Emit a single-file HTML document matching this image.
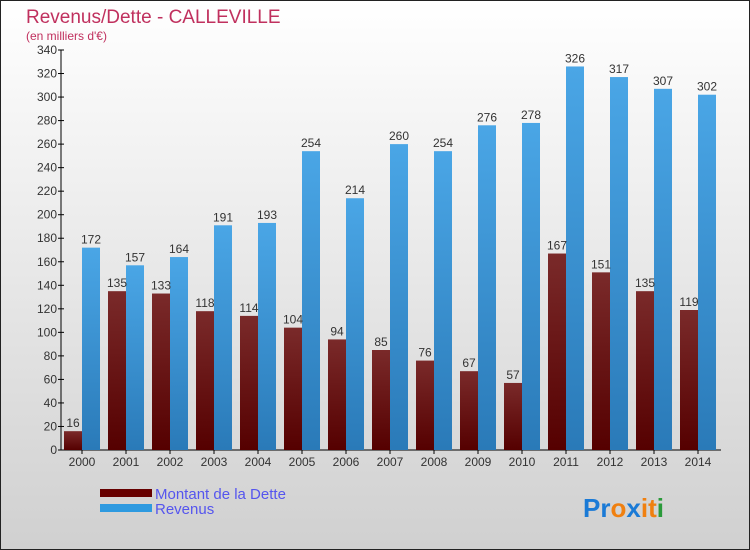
<!DOCTYPE html>
<html><head><meta charset="utf-8"><style>
body{margin:0;width:750px;height:550px;overflow:hidden}
svg{display:block;font-family:"Liberation Sans",sans-serif}
</style></head><body>
<svg width="750" height="550">
<defs>
<linearGradient id="bg" x1="0" y1="0" x2="0" y2="1"><stop offset="0" stop-color="#ffffff"/><stop offset="1" stop-color="#d0d0d0"/></linearGradient>
<linearGradient id="gd" x1="0" y1="0" x2="0" y2="1"><stop offset="0" stop-color="#7a2a2a"/><stop offset="1" stop-color="#550000"/></linearGradient>
<linearGradient id="gr" x1="0" y1="0" x2="0" y2="1"><stop offset="0" stop-color="#4aa6e6"/><stop offset="1" stop-color="#2a7ab8"/></linearGradient>
</defs>
<rect x="0.5" y="0.5" width="749" height="549" fill="url(#bg)" stroke="#222"/>
<text x="26" y="23" font-size="19" fill="#c0305e">Revenus/Dette - CALLEVILLE</text>
<text x="26" y="40" font-size="12" fill="#c0305e">(en milliers d'€)</text>
<g id="plot"></g>
<g>
<rect x="100" y="489" width="52" height="8" fill="#600"/>
<text x="155" y="499" font-size="15" fill="#5555ee">Montant de la Dette</text>
<rect x="100" y="504" width="52" height="8" fill="#2e9ae0"/>
<text x="155" y="514" font-size="15" fill="#5555ee">Revenus</text>
</g>
<g font-size="26" font-weight="bold">
<text x="583" y="517"><tspan fill="#1a7ad6">Pr</tspan><tspan fill="#f08010">o</tspan><tspan fill="#1a7ad6">x</tspan><tspan fill="#f08010">i</tspan><tspan fill="#f08010">t</tspan><tspan fill="#2a9a3a">i</tspan></text>
</g>
</svg>
<script>
const years=["2000","2001","2002","2003","2004","2005","2006","2007","2008","2009","2010","2011","2012","2013","2014"];
const dette=[16,135,133,118,114,104,94,85,76,67,57,167,151,135,119];
const revenus=[172,157,164,191,193,254,214,260,254,276,278,326,317,307,302];
const yTicks=[0,20,40,60,80,100,120,140,160,180,200,220,240,260,280,300,320,340];
const NS="http://www.w3.org/2000/svg";
const g=document.getElementById('plot');
const x0=61,y0=450,yMax=340,ph=400,gw=44;
const ys=v=>y0-v/yMax*ph;
const xs=i=>x0+i*gw;
function el(t,a){const e=document.createElementNS(NS,t);for(const k in a)e.setAttribute(k,a[k]);g.appendChild(e);return e;}
const ax=el('path',{d:`M${x0} ${ys(yMax)}V${y0}H${x0+gw*years.length}`,stroke:'#000',fill:'none'});


yTicks.forEach(v=>{
  const t=el('line',{x1:x0-3,x2:x0+3,y1:ys(v),y2:ys(v),stroke:'#000'});
  
  
  const l=el('text',{x:x0-4,y:ys(v)+4,'font-size':12,fill:'#333','text-anchor':'end'});
  l.textContent=v;
  
  
});
years.forEach((yr,i)=>{
  const c=xs(i)+21;
  const t=el('line',{x1:c,x2:c,y1:y0,y2:y0+4,stroke:'#000'});
  
  
  const l=el('text',{x:c,y:y0+16,'font-size':12,fill:'#333','text-anchor':'middle'});
  l.textContent=yr;
  
  
  const b1=el('rect',{x:c-18,y:ys(dette[i]),width:18,height:y0-ys(dette[i]),fill:'url(#gd)'});
  
  
  const b2=el('rect',{x:c,y:ys(revenus[i]),width:18,height:y0-ys(revenus[i]),fill:'url(#gr)'});
  
  
  const v1=el('text',{x:c-9,y:ys(dette[i])-4,'font-size':12,fill:'#333','text-anchor':'middle'});
  v1.textContent=dette[i];
  
  
  const v2=el('text',{x:c+9,y:ys(revenus[i])-4,'font-size':12,fill:'#333','text-anchor':'middle'});
  v2.textContent=revenus[i];
  
  
});
</script>
</body></html>
